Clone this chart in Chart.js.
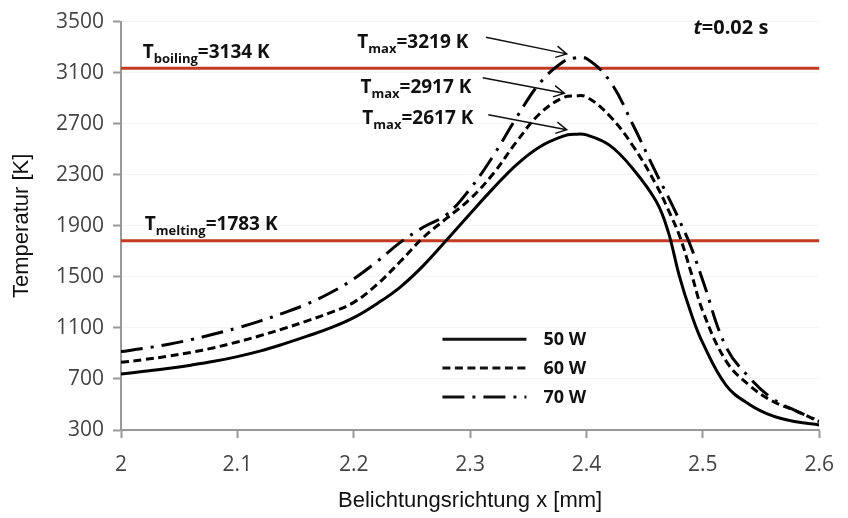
<!DOCTYPE html>
<html>
<head>
<meta charset="utf-8">
<script src="https://cdn.jsdelivr.net/npm/chart.js@4"></script>
<style>
body { margin: 0; background: #fff; }
#wrap { width: 848px; height: 518px; }
</style>
</head>
<body>
<div id="wrap"><canvas id="chart" width="848" height="518"></canvas></div>
<script>
// 位置 x [mm]
const xValues = [2.0, 2.02, 2.04, 2.06, 2.08, 2.1, 2.12, 2.14, 2.16, 2.18, 2.2, 2.22, 2.24, 2.26, 2.28, 2.3, 2.32, 2.34, 2.36, 2.38, 2.39, 2.4, 2.42, 2.44, 2.46, 2.47, 2.48, 2.49, 2.5, 2.52, 2.54, 2.56, 2.58, 2.6];
// 温度 [K]
const temp50W = [739, 760, 782, 808, 838, 875, 920, 975, 1035, 1100, 1180, 1290, 1420, 1590, 1790, 1995, 2195, 2380, 2520, 2603, 2617, 2612, 2530, 2345, 2090, 1860, 1500, 1210, 980, 650, 500, 410, 365, 340];
const temp60W = [830, 852, 878, 908, 945, 990, 1040, 1095, 1155, 1220, 1300, 1440, 1620, 1810, 1960, 2110, 2310, 2560, 2780, 2905, 2917, 2910, 2760, 2525, 2220, 2030, 1820, 1530, 1230, 840, 650, 525, 450, 365];
const temp70W = [914, 940, 970, 1008, 1052, 1100, 1155, 1218, 1288, 1375, 1484, 1620, 1770, 1890, 1990, 2190, 2450, 2750, 3020, 3185, 3215, 3210, 3035, 2690, 2310, 2130, 1940, 1730, 1470, 950, 710, 545, 450, 370];
const seriesNames = ['50 W', '60 W', '70 W'];
const boilingT = 3134;
const meltingT = 1783;
const xTicks = [2, 2.1, 2.2, 2.3, 2.4, 2.5, 2.6];
const yTicks = [300, 700, 1100, 1500, 1900, 2300, 2700, 3100, 3500];

// 注記（データ座標）
const notes = [
    { x: 2.0187, y: 3218, main: 'T', sub: 'boiling', rest: '=3134 K' },
    { x: 2.0204, y: 1865, main: 'T', sub: 'melting', rest: '=1783 K' },
    { x: 2.2031, y: 3297, main: 'T', sub: 'max', rest: '=3219 K' },
    { x: 2.2057, y: 2944, main: 'T', sub: 'max', rest: '=2917 K' },
    { x: 2.2074, y: 2694, main: 'T', sub: 'max', rest: '=2617 K' }
];
const arrows = [
    { x1: 2.3136, y1: 3377, x2: 2.383, y2: 3247 },
    { x1: 2.3108, y1: 3060, x2: 2.381, y2: 2939 },
    { x1: 2.3156, y1: 2770, x2: 2.383, y2: 2653 }
];
const timeNote = { x: 2.4920, y: 3406 };
const legendPos = { x1: 2.2762, x2: 2.3484, textX: 2.3630, y: [1012, 785, 558] };

const lineStyles = [[], [8, 4.5], [22, 8, 3, 8]];

function toPoints(arr) {
    return xValues.map((x, i) => ({ x: x, y: arr[i] }));
}

const curveSets = [temp50W, temp60W, temp70W].map((arr, i) => ({
    label: seriesNames[i],
    data: toPoints(arr),
    borderColor: '#000',
    borderWidth: 3,
    borderDash: lineStyles[i],
    pointRadius: 0,
    tension: 0.4,
    fill: false
}));

const redSets = [boilingT, meltingT].map(t => ({
    label: 'ref',
    data: [{ x: xTicks[0], y: t }, { x: xTicks[xTicks.length - 1] + 0.002, y: t }],
    borderColor: '#c23b22',
    borderWidth: 3,
    pointRadius: 0,
    fill: false
}));

// 注記を描くプラグイン
const notePlugin = {
    id: 'notes',
    afterDatasetsDraw(chart) {
        const ctx = chart.ctx;
        const sx = chart.scales.x, sy = chart.scales.y;
        const fs = 19;
        ctx.save();
        ctx.fillStyle = '#111';
        ctx.textBaseline = 'alphabetic';
        ctx.textAlign = 'left';
        notes.forEach(n => {
            let px = sx.getPixelForValue(n.x);
            const py = sy.getPixelForValue(n.y);
            ctx.font = 'bold ' + fs + 'px "Open Sans"';
            ctx.fillText(n.main, px, py);
            px += ctx.measureText(n.main).width;
            ctx.font = 'bold ' + Math.round(fs * 0.68) + 'px "Open Sans"';
            ctx.fillText(n.sub, px, py + 5);
            px += ctx.measureText(n.sub).width;
            ctx.font = 'bold ' + fs + 'px "Open Sans"';
            ctx.fillText(n.rest, px, py);
        });

        // t=0.02 s
        let tx = sx.getPixelForValue(timeNote.x);
        const ty = sy.getPixelForValue(timeNote.y);
        ctx.font = 'italic bold 20px "Open Sans"';
        ctx.fillText('t', tx, ty);
        tx += ctx.measureText('t').width;
        ctx.font = 'bold 20px "Open Sans"';
        ctx.fillText('=0.02 s', tx, ty);

        // 矢印
        ctx.strokeStyle = '#111';
        ctx.lineWidth = 1.5;
        arrows.forEach(a => {
            const x1 = sx.getPixelForValue(a.x1), y1 = sy.getPixelForValue(a.y1);
            const x2 = sx.getPixelForValue(a.x2), y2 = sy.getPixelForValue(a.y2);
            const ang = Math.atan2(y2 - y1, x2 - x1);
            ctx.beginPath();
            ctx.moveTo(x1, y1);
            ctx.lineTo(x2, y2);
            ctx.moveTo(x2 - 12 * Math.cos(ang - 0.5), y2 - 12 * Math.sin(ang - 0.5));
            ctx.lineTo(x2, y2);
            ctx.lineTo(x2 - 12 * Math.cos(ang + 0.5), y2 - 12 * Math.sin(ang + 0.5));
            ctx.stroke();
        });

        // 凡例
        const lx1 = sx.getPixelForValue(legendPos.x1);
        const lx2 = sx.getPixelForValue(legendPos.x2);
        const ltx = sx.getPixelForValue(legendPos.textX);
        ctx.font = 'bold 18px "Open Sans"';
        ctx.textBaseline = 'middle';
        curveSets.forEach((ds, i) => {
            const ly = sy.getPixelForValue(legendPos.y[i]);
            ctx.save();
            ctx.lineWidth = 3;
            ctx.setLineDash(ds.borderDash);
            ctx.beginPath();
            ctx.moveTo(lx1, ly);
            ctx.lineTo(lx2, ly);
            ctx.stroke();
            ctx.restore();
            ctx.fillText(ds.label, ltx, ly + 1);
        });
        ctx.restore();
    }
};

new Chart(document.getElementById('chart'), {
    type: 'line',
    data: { datasets: curveSets.concat(redSets) },
    options: {
        responsive: false,
        animation: false,
        layout: { padding: { left: 0, right: 21, top: 21, bottom: 0 } },
        plugins: { legend: { display: false }, tooltip: { enabled: false } },
        scales: {
            x: {
                type: 'linear',
                min: 2,
                max: 2.6,
                afterBuildTicks: s => { s.ticks = xTicks.map(v => ({ value: v })); },
                afterFit: s => { s.height = 88; },
                ticks: {
                    color: '#444',
                    font: { family: 'Open Sans', size: 21 },
                    padding: 14,
                    maxRotation: 0,
                    callback: v => String(Number(v.toFixed(1)))
                },
                grid: { drawOnChartArea: false, tickColor: '#999', tickLength: 8, tickWidth: 2 },
                border: { color: '#999', width: 2 },
                title: {
                    display: true,
                    text: 'Belichtungsrichtung x [mm]',
                    color: '#111',
                    font: { family: 'Liberation Sans', size: 22 },
                    padding: { top: 0, bottom: 4 }
                }
            },
            y: {
                min: 300,
                max: 3500,
                afterBuildTicks: s => { s.ticks = yTicks.map(v => ({ value: v })); },
                afterFit: s => { s.width = 121; },
                ticks: {
                    color: '#444',
                    font: { family: 'Open Sans', size: 21 },
                    padding: 9,
                    callback: v => String(v)
                },
                grid: { color: '#f4f4f4', tickColor: '#999', tickLength: 8, tickWidth: 2 },
                border: { color: '#999', width: 2 },
                title: {
                    display: true,
                    text: 'Temperatur [K]',
                    color: '#111',
                    font: { family: 'Liberation Sans', size: 22 },
                    padding: { top: 9, bottom: 0 }
                }
            }
        }
    },
    plugins: [notePlugin]
});
</script>
</body>
</html>
